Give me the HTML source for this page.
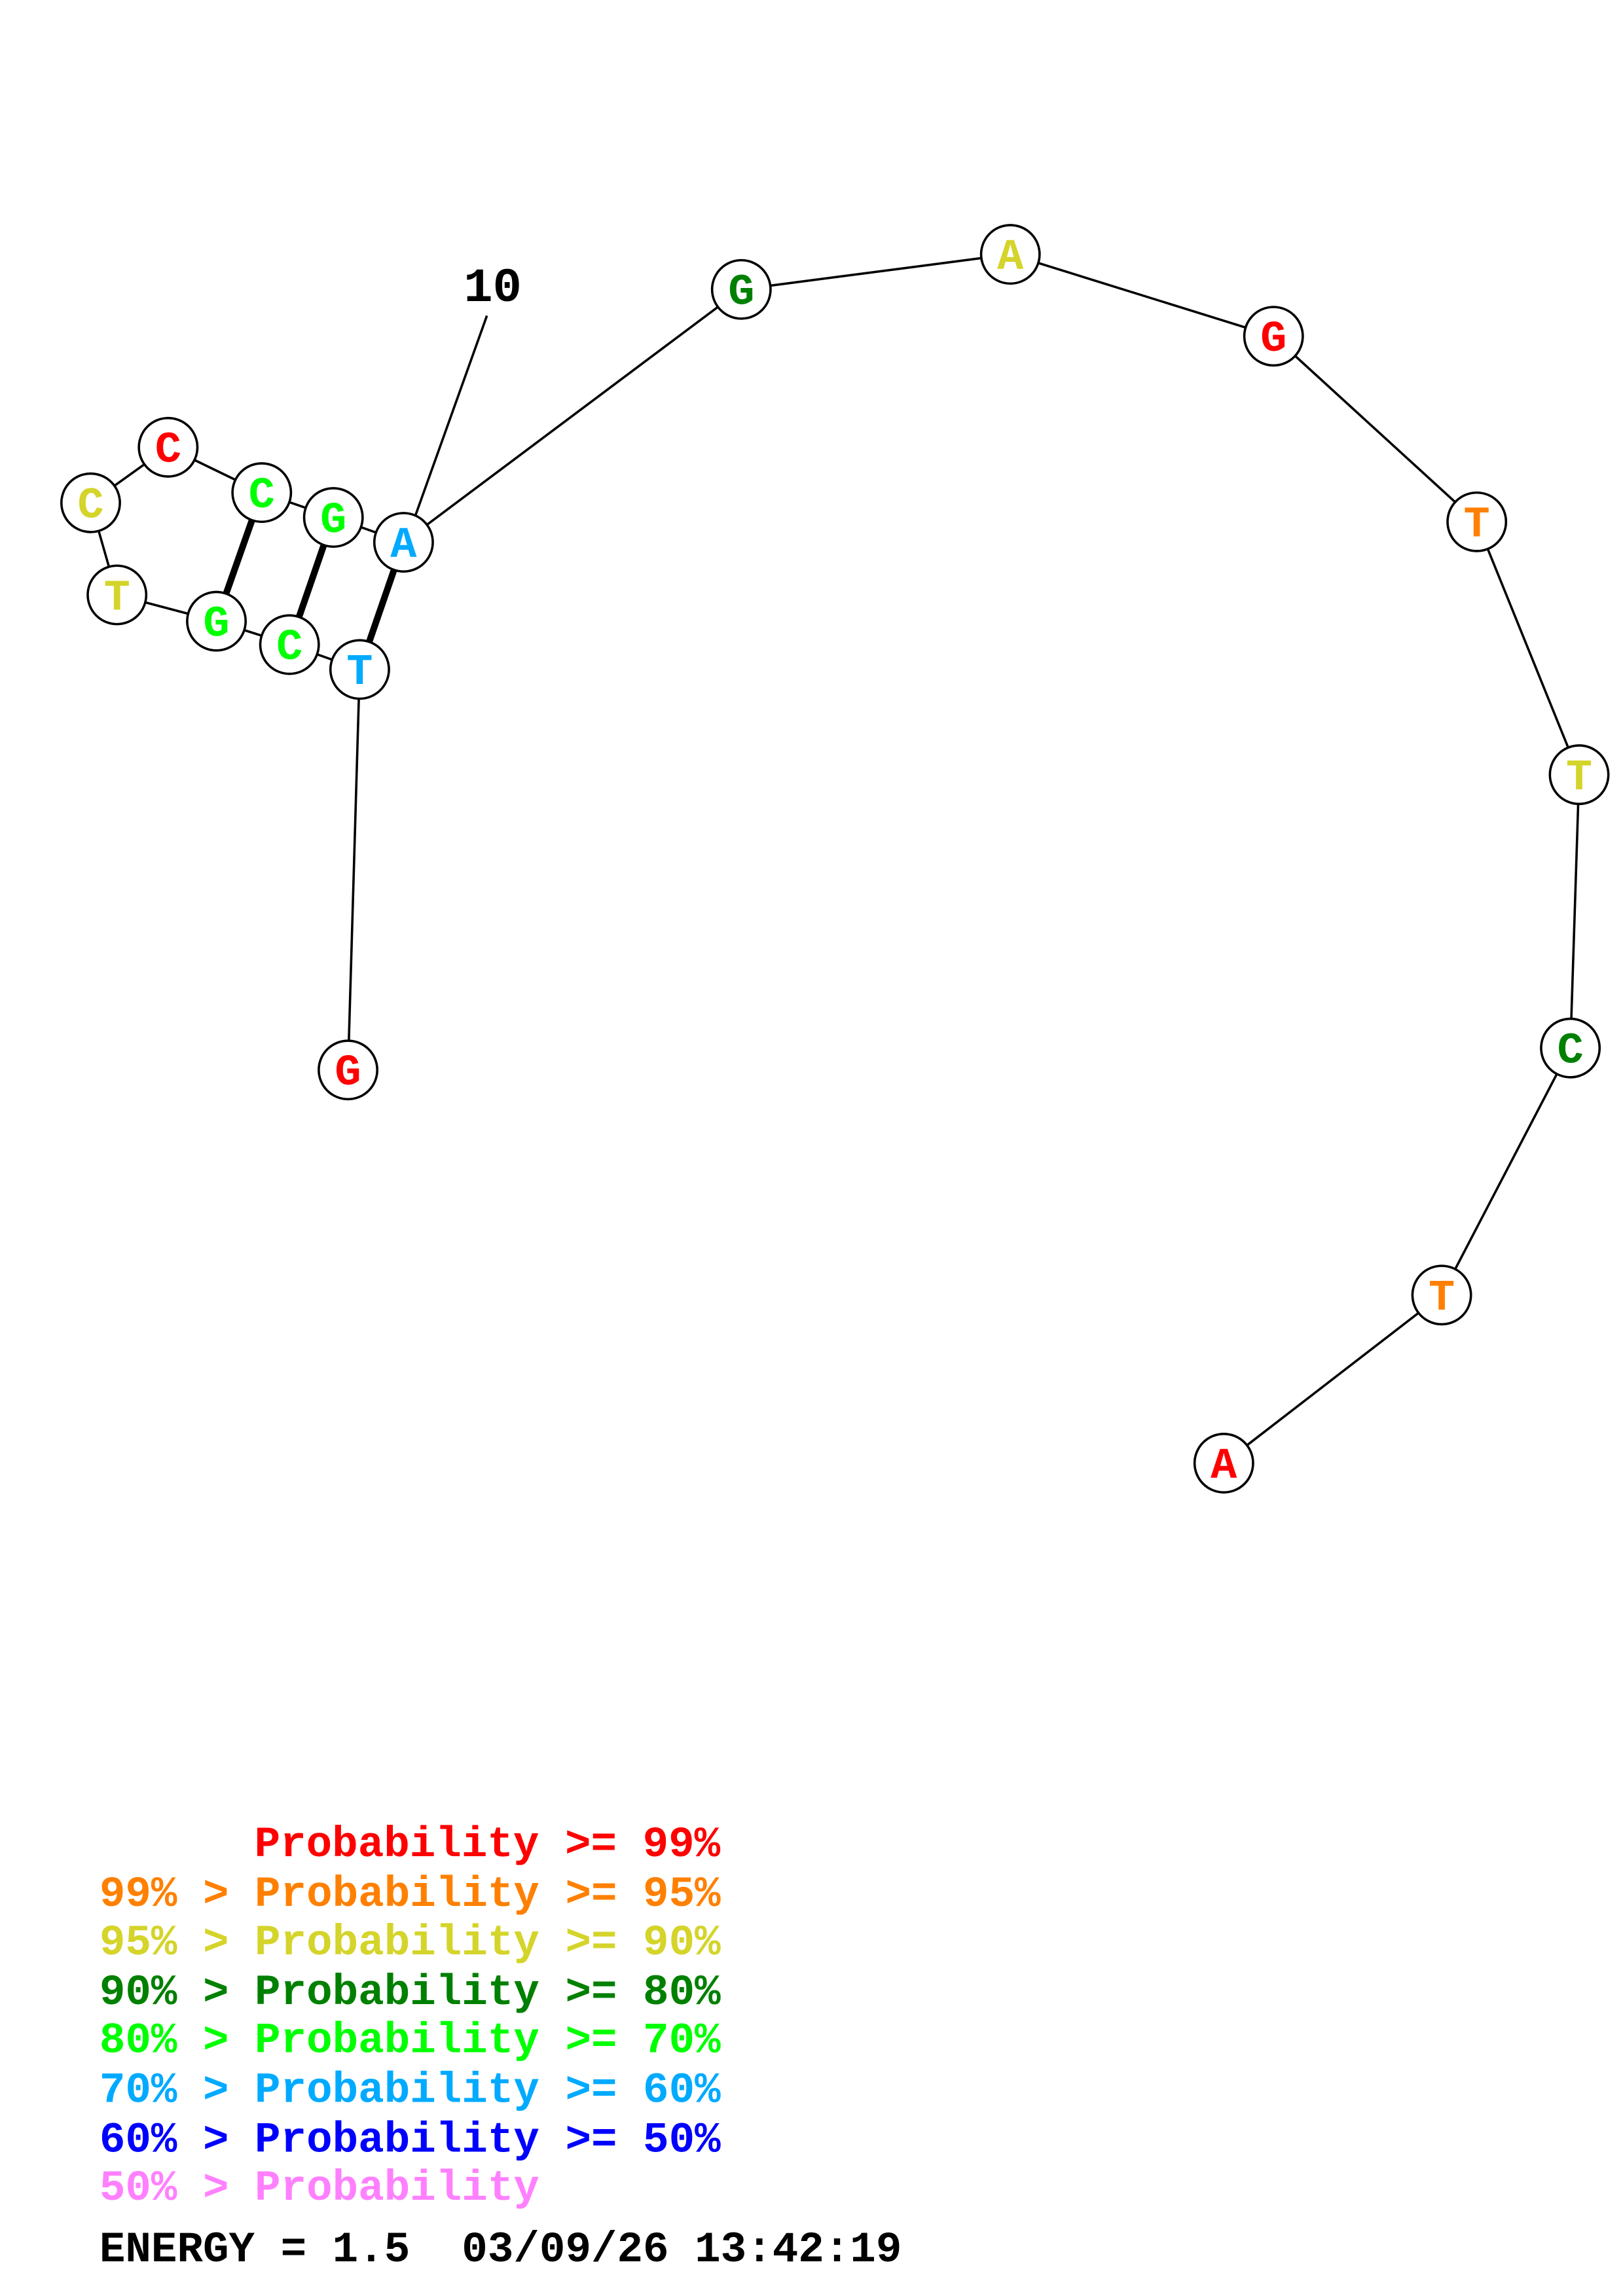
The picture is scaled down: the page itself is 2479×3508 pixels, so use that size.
<!DOCTYPE html>
<html><head><meta charset="utf-8"><style>
html,body{margin:0;padding:0;background:#fff;}
svg{display:block;}
</style></head><body>
<svg width="2479" height="3508" viewBox="0 0 1110 1570.8" preserveAspectRatio="none" xmlns="http://www.w3.org/2000/svg">
<rect width="1110" height="1571" fill="#fff"/>
<g transform="translate(2,1)">
<g stroke="#000" stroke-width="1.6" fill="none">
<polyline points="236,731 244,457 196,440 146,424 78,406 60,343 113,305 177,336 226,353 274,370 505,197 689,173 869,229 1008,356 1078,529 1072,716 984,885 835,1000"/>
<line x1="331" y1="215" x2="282" y2="352"/>
</g>
<g stroke="#000" stroke-width="4.5">
<line x1="177" y1="336" x2="146" y2="424"/>
<line x1="226" y1="353" x2="196" y2="440"/>
<line x1="274" y1="370" x2="244" y2="457"/>
</g>
<g stroke="#000" stroke-width="1.6" fill="#fff">
<circle cx="236" cy="731" r="20"/><circle cx="244" cy="457" r="20"/><circle cx="196" cy="440" r="20"/>
<circle cx="146" cy="424" r="20"/><circle cx="78" cy="406" r="20"/><circle cx="60" cy="343" r="20"/>
<circle cx="113" cy="305" r="20"/><circle cx="177" cy="336" r="20"/><circle cx="226" cy="353" r="20"/>
<circle cx="274" cy="370" r="20"/><circle cx="505" cy="197" r="20"/><circle cx="689" cy="173" r="20"/>
<circle cx="869" cy="229" r="20"/><circle cx="1008" cy="356" r="20"/><circle cx="1078" cy="529" r="20"/>
<circle cx="1072" cy="716" r="20"/><circle cx="984" cy="885" r="20"/><circle cx="835" cy="1000" r="20"/>
</g>
<g font-family="Liberation Mono, monospace" font-weight="bold" font-size="30" text-anchor="middle">
<text x="236" y="741" fill="#ff0000">G</text>
<text x="244" y="467" fill="#00aaff">T</text>
<text x="196" y="450" fill="#00ff00">C</text>
<text x="146" y="434" fill="#00ff00">G</text>
<text x="78" y="416" fill="#d4d42a">T</text>
<text x="60" y="353" fill="#d4d42a">C</text>
<text x="113" y="315" fill="#ff0000">C</text>
<text x="177" y="346" fill="#00ff00">C</text>
<text x="226" y="363" fill="#00ff00">G</text>
<text x="274" y="380" fill="#00aaff">A</text>
<text x="505" y="207" fill="#008000">G</text>
<text x="689" y="183" fill="#d4d42a">A</text>
<text x="869" y="239" fill="#ff0000">G</text>
<text x="1008" y="366" fill="#ff8000">T</text>
<text x="1078" y="539" fill="#d4d42a">T</text>
<text x="1072" y="726" fill="#008000">C</text>
<text x="984" y="895" fill="#ff8000">T</text>
<text x="835" y="1010" fill="#ff0000">A</text>
<text x="335" y="205" fill="#000" font-size="33">10</text>
</g>
</g>
<g font-family="Liberation Mono, monospace" font-weight="bold" font-size="29.5">
<text x="174" y="1270" fill="#ff0000">Probability &gt;= 99%</text>
<text x="68" y="1304" fill="#ff8000">99% &gt; Probability &gt;= 95%</text>
<text x="68" y="1337" fill="#d4d42a">95% &gt; Probability &gt;= 90%</text>
<text x="68" y="1371" fill="#008000">90% &gt; Probability &gt;= 80%</text>
<text x="68" y="1404" fill="#00ff00">80% &gt; Probability &gt;= 70%</text>
<text x="68" y="1438" fill="#00aaff">70% &gt; Probability &gt;= 60%</text>
<text x="68" y="1472" fill="#0000ff">60% &gt; Probability &gt;= 50%</text>
<text x="68" y="1505" fill="#ff80ff">50% &gt; Probability</text>
<text x="68" y="1547" fill="#000">ENERGY = 1.5 &#160;03/09/26 13:42:19</text>
</g>
</svg>
</body></html>
